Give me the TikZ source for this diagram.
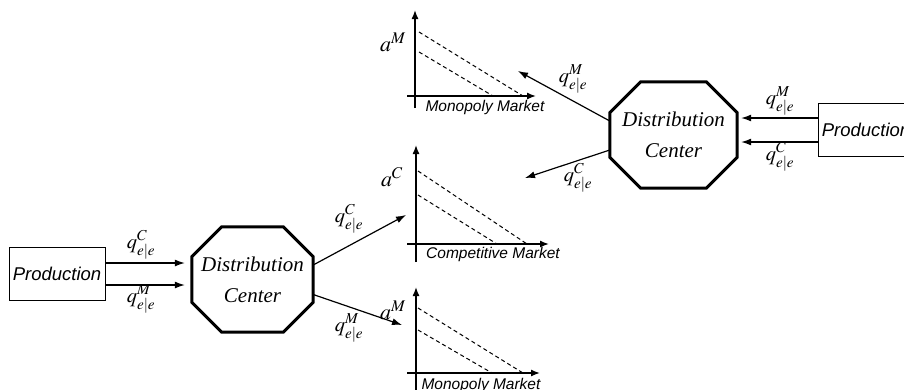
\documentclass[tikz,border=0pt]{standalone}
\usepackage{mathptmx}
\usepackage{fontspec}
\setmainfont{Liberation Serif}
\newfontfamily\arialf{Liberation Sans}
\usetikzlibrary{arrows.meta,calc}
\newcommand\drawocto[2]{%
  \draw[octo] ($(#1.north west)+(#2,0)$) -- ($(#1.north east)+(-#2,0)$)
    -- ($(#1.north east)+(0,#2)$) -- ($(#1.south east)+(0,-#2)$)
    -- ($(#1.south east)+(-#2,0)$) -- ($(#1.south west)+(#2,0)$)
    -- ($(#1.south west)+(0,-#2)$) -- ($(#1.north west)+(0,#2)$) -- cycle;}
\begin{document}
\begin{tikzpicture}[x=1pt,y=-1pt,
  prod/.style={draw, line width=1pt, minimum width=96pt, minimum height=53pt, inner sep=0pt,
    font=\arialf\itshape\fontsize{18.5}{20}\selectfont},
  octo/.style={line width=3pt, line join=miter},
  flow/.style={-{Latex[length=10pt,width=7pt]}, line width=1.2pt},
  axis/.style={-{Latex[length=9pt,width=7pt]}, line width=1.4pt},
  demand/.style={dash pattern=on 4pt off 3pt, line width=1pt},
  qlab/.style={font=\fontsize{20.5}{22}\selectfont, inner sep=0pt},
  alab/.style={font=\fontsize{22}{24}\selectfont, inner sep=0pt},
  mkt/.style={font=\arialf\itshape\fontsize{15.5}{17}\selectfont, inner sep=0pt},
  dctext/.style={font=\itshape\fontsize{21}{31}\selectfont, align=center, inner sep=0pt}
]
\useasboundingbox (0,0) rectangle (904,389);
\clip (0,0) rectangle (904,389);

% production boxes
\node[prod] (pL) at (57,273.5) {Production};
\node[prod] (pR) at (866,129.5) {Production};

% distribution centers
\node[dctext, minimum width=121pt, minimum height=105pt] (dL) at (252.5,279.5) {Distribution\\Center};
\drawocto{dL}{30}
\node[dctext, minimum width=127pt, minimum height=106pt] (dR) at (673.5,135) {Distribution\\Center};
\drawocto{dR}{31}

% top chart (monopoly)
\draw[axis] (415,108) -- (415,10);
\draw[axis] (407,96) -- (536,96);
\draw[demand] (419,32) -- (523,96);
\draw[demand] (419,52) -- (493,96);
\node[alab] (aT) at (393,42) {$a^{M}$};
\node[mkt] (mT) at (485,107) {Monopoly Market};

% middle chart (competitive)
\draw[axis] (416,262) -- (416,145);
\draw[axis] (407,244) -- (549,244);
\draw[demand] (418,171) -- (527,244);
\draw[demand] (418,195) -- (497,244);
\node[alab] (aC) at (392,177) {$a^{C}$};
\node[mkt] (mC) at (493,254) {Competitive Market};

% bottom chart (monopoly)
\draw[axis] (416,392) -- (416,287);
\draw[axis] (407,373) -- (540,373);
\draw[demand] (418,308) -- (523,373);
\draw[demand] (418,330) -- (492,373);
\node[alab] (aB) at (393,310) {$a^{M}$};
\node[mkt] (mB) at (481,385) {Monopoly Market};

% arrow end points
\coordinate (tT) at (518,71);
\coordinate (tRC) at (525,178);
\coordinate (tC) at (406,215);
\coordinate (tB) at (402,325);

% flows: left side
\draw[flow, shorten >=7pt] ([yshift=10.5pt]pL.east) -- ([yshift=10.5pt]pL.east -| dL.west);
\draw[flow, shorten >=7pt] ([yshift=-11.5pt]pL.east) -- ([yshift=-11.5pt]pL.east -| dL.west);
\draw[flow] ([yshift=14.5pt]dL.east) -- (tC);
\draw[flow] ([yshift=-15pt]dL.east) -- (tB);

% flows: right side
\draw[flow, shorten >=4pt] ([yshift=11.5pt]pR.west) -- ([yshift=11.5pt]pR.west -| dR.east);
\draw[flow, shorten >=4pt] ([yshift=-12.5pt]pR.west) -- ([yshift=-12.5pt]pR.west -| dR.east);
\draw[flow] ([yshift=14pt]dR.west) -- (tT);
\draw[flow] ([yshift=-15pt]dR.west) -- (tRC);

% flow labels
\node[qlab] (qL1) at (141,245) {$q^{C}_{e|e}$};
\node[qlab] (qL2) at (141,299) {$q^{M}_{e|e}$};
\node[qlab] (qD1) at (349,219) {$q^{C}_{e|e}$};
\node[qlab] (qD2) at (349,328) {$q^{M}_{e|e}$};
\node[qlab] (qR1) at (573,79) {$q^{M}_{e|e}$};
\node[qlab] (qR2) at (578,178) {$q^{C}_{e|e}$};
\node[qlab] (qP1) at (780,101) {$q^{M}_{e|e}$};
\node[qlab] (qP2) at (780,157) {$q^{C}_{e|e}$};
\end{tikzpicture}
\end{document}
